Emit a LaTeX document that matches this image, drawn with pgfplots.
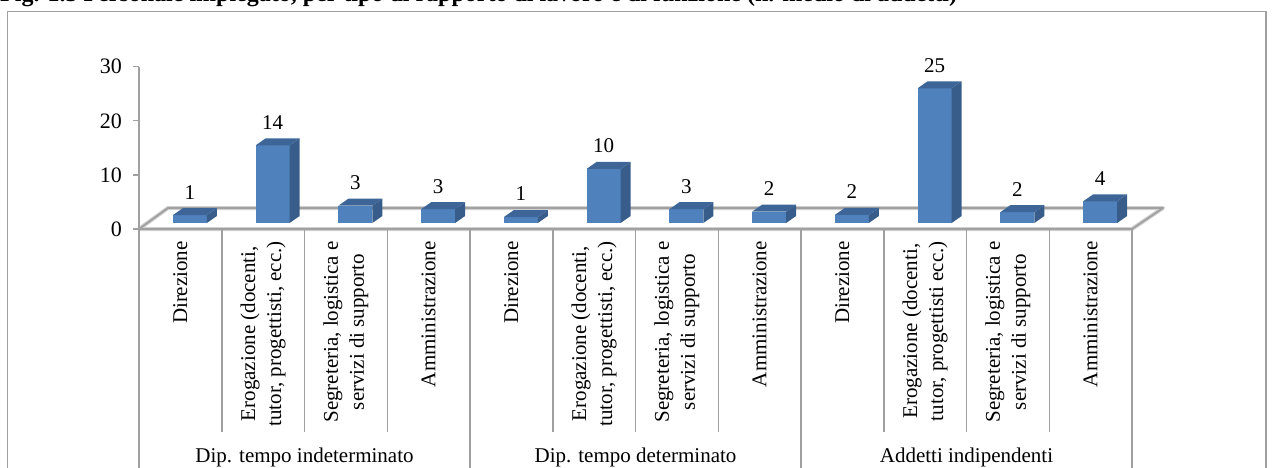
\documentclass[border=0pt]{standalone}
\usepackage{fontspec}
\setmainfont{Liberation Serif}
\usepackage{pgfplots}
\usepackage{pgfplotstable}
\pgfplotsset{compat=1.18}
\definecolor{barfront}{HTML}{4F81BD}
\definecolor{barside}{HTML}{385D8A}
\definecolor{bartop}{HTML}{3D6597}
\definecolor{linegray}{HTML}{A0A0A0}
\definecolor{lightgray}{HTML}{D0D0D0}
\pgfdeclareplotmark{emptymark}{}

\pgfplotstableread{
x h lab
0.5 1.45 1
1.5 14.35 14
2.5 3.2 3
3.5 2.55 3
4.5 1.1 1
5.5 10.0 10
6.5 2.55 3
7.5 2.1 2
8.5 1.5 2
9.5 24.9 25
10.5 2.0 2
11.5 4.0 4
}\bardata

\begin{document}
\begin{tikzpicture}[x=1pt,y=1pt]
\useasboundingbox (0,0) rectangle (1274,-468);
\clip (0,0) rectangle (1274,-468);
% title (partly cut at the top, as in the reference)
\node[anchor=base west, inner sep=0pt, font=\fontsize{24}{28}\selectfont\bfseries] at (0,-2)
  {Fig. 1.5 Personale impiegato, per tipo di rapporto di lavoro e di funzione (n. medio di addetti)};
% outer frame
\draw[linegray, line width=1.3] (7.5,-11.5) rectangle (1266,-520);
% floor
\draw[lightgray, line width=4, line join=round] (139,-229) -- (1132,-229) -- (1163,-208) -- (168,-208) -- cycle;
\draw[linegray, line width=1.8, line join=round] (139,-229) -- (1132,-229) -- (1163,-208) -- (168,-208) -- cycle;
% category dividers
\foreach \i in {1,2,3,5,6,7,9,10,11} \draw[linegray, line width=1.5] ({139+82.75*\i},-229) -- ({139+82.75*\i},-432);
\foreach \i in {0,4,8,12} \draw[linegray, line width=1.5] ({139+82.75*\i},-229) -- ({139+82.75*\i},-480);
% group labels
\begin{scope}[every node/.style={font=\fontsize{21}{25}\selectfont, inner sep=0pt}]
\node at (304.5,-457) {Dip. tempo indeterminato};
\node at (635.5,-457) {Dip. tempo determinato};
\node at (966.5,-457) {Addetti indipendenti};
\end{scope}
\begin{axis}[
  at={(139pt,-229pt)}, anchor=south west,
  scale only axis, width=993pt, height=162.3pt,
  xmin=0, xmax=12, ymin=0, ymax=30,
  axis y line*=left, axis x line*=bottom,
  x axis line style={draw=none},
  y axis line style={draw=linegray, line width=2pt},
  ytick={0,10,20,30},
  tick align=outside, major tick length=6pt,
  major y tick style={draw=linegray, line width=1.3pt},
  major x tick style={draw=none},
  xtick={0.5,1.5,...,11.5},
  xticklabels={Direzione,{Erogazione (docenti,\\tutor, progettisti, ecc.)},{Segreteria, logistica e\\servizi di supporto},Amministrazione,
               Direzione,{Erogazione (docenti,\\tutor, progettisti, ecc.)},{Segreteria, logistica e\\servizi di supporto},Amministrazione,
               Direzione,{Erogazione (docenti,\\tutor, progettisti ecc.)},{Segreteria, logistica e\\servizi di supporto},Amministrazione},
  tick label style={font=\fontsize{21}{26}\selectfont},
  xticklabel style={yshift=-6pt, rotate=90, anchor=east, align=center, inner sep=0pt},
  yticklabel style={inner sep=0pt, xshift=-11pt, font=\fontsize{22}{26}\selectfont},
  /pgf/number format/assume math mode=true,
  clip=false,
]
% 3D columns: front, side and top faces drawn at each data point
\addplot[
  scatter, only marks, mark=emptymark,
  point meta=y,
  visualization depends on={\thisrow{h} \as \barh},
  scatter/@pre marker code/.code={%
    \pgfmathsetmacro\HA{6-\barh*5.41}%
    \pgfmathsetmacro\HB{13-\barh*5.41}%
    \pgfscope
    \pgfsetfillcolor{barfront}%
    \pgfpathrectanglecorners{\pgfqpoint{-7.5pt}{\HA pt}}{\pgfqpoint{26.5pt}{6pt}}%
    \pgfusepath{fill}%
    \pgfsetfillcolor{barside}%
    \pgfpathmoveto{\pgfqpoint{26.5pt}{\HA pt}}%
    \pgfpathlineto{\pgfqpoint{36.5pt}{\HB pt}}%
    \pgfpathlineto{\pgfqpoint{36.5pt}{13pt}}%
    \pgfpathlineto{\pgfqpoint{26.5pt}{6pt}}%
    \pgfpathclose
    \pgfusepath{fill}%
    \pgfsetfillcolor{bartop}%
    \pgfpathmoveto{\pgfqpoint{-7.5pt}{6pt}}%
    \pgfpathlineto{\pgfqpoint{26.5pt}{6pt}}%
    \pgfpathlineto{\pgfqpoint{36.5pt}{13pt}}%
    \pgfpathlineto{\pgfqpoint{2.5pt}{13pt}}%
    \pgfpathclose
    \pgfusepath{fill}%
    \endpgfscope
  },
  scatter/@post marker code/.code={},
] table[x=x, y=h] {\bardata};
% value labels
\addplot[
  only marks, mark=emptymark,
  nodes near coords, point meta=explicit symbolic,
  every node near coord/.append style={anchor=center, xshift=9.5pt, yshift=29pt, font=\fontsize{21}{25}\selectfont, inner sep=0pt, text=black},
] table[x=x, y=h, meta=lab] {\bardata};
\end{axis}
\end{tikzpicture}
\end{document}
